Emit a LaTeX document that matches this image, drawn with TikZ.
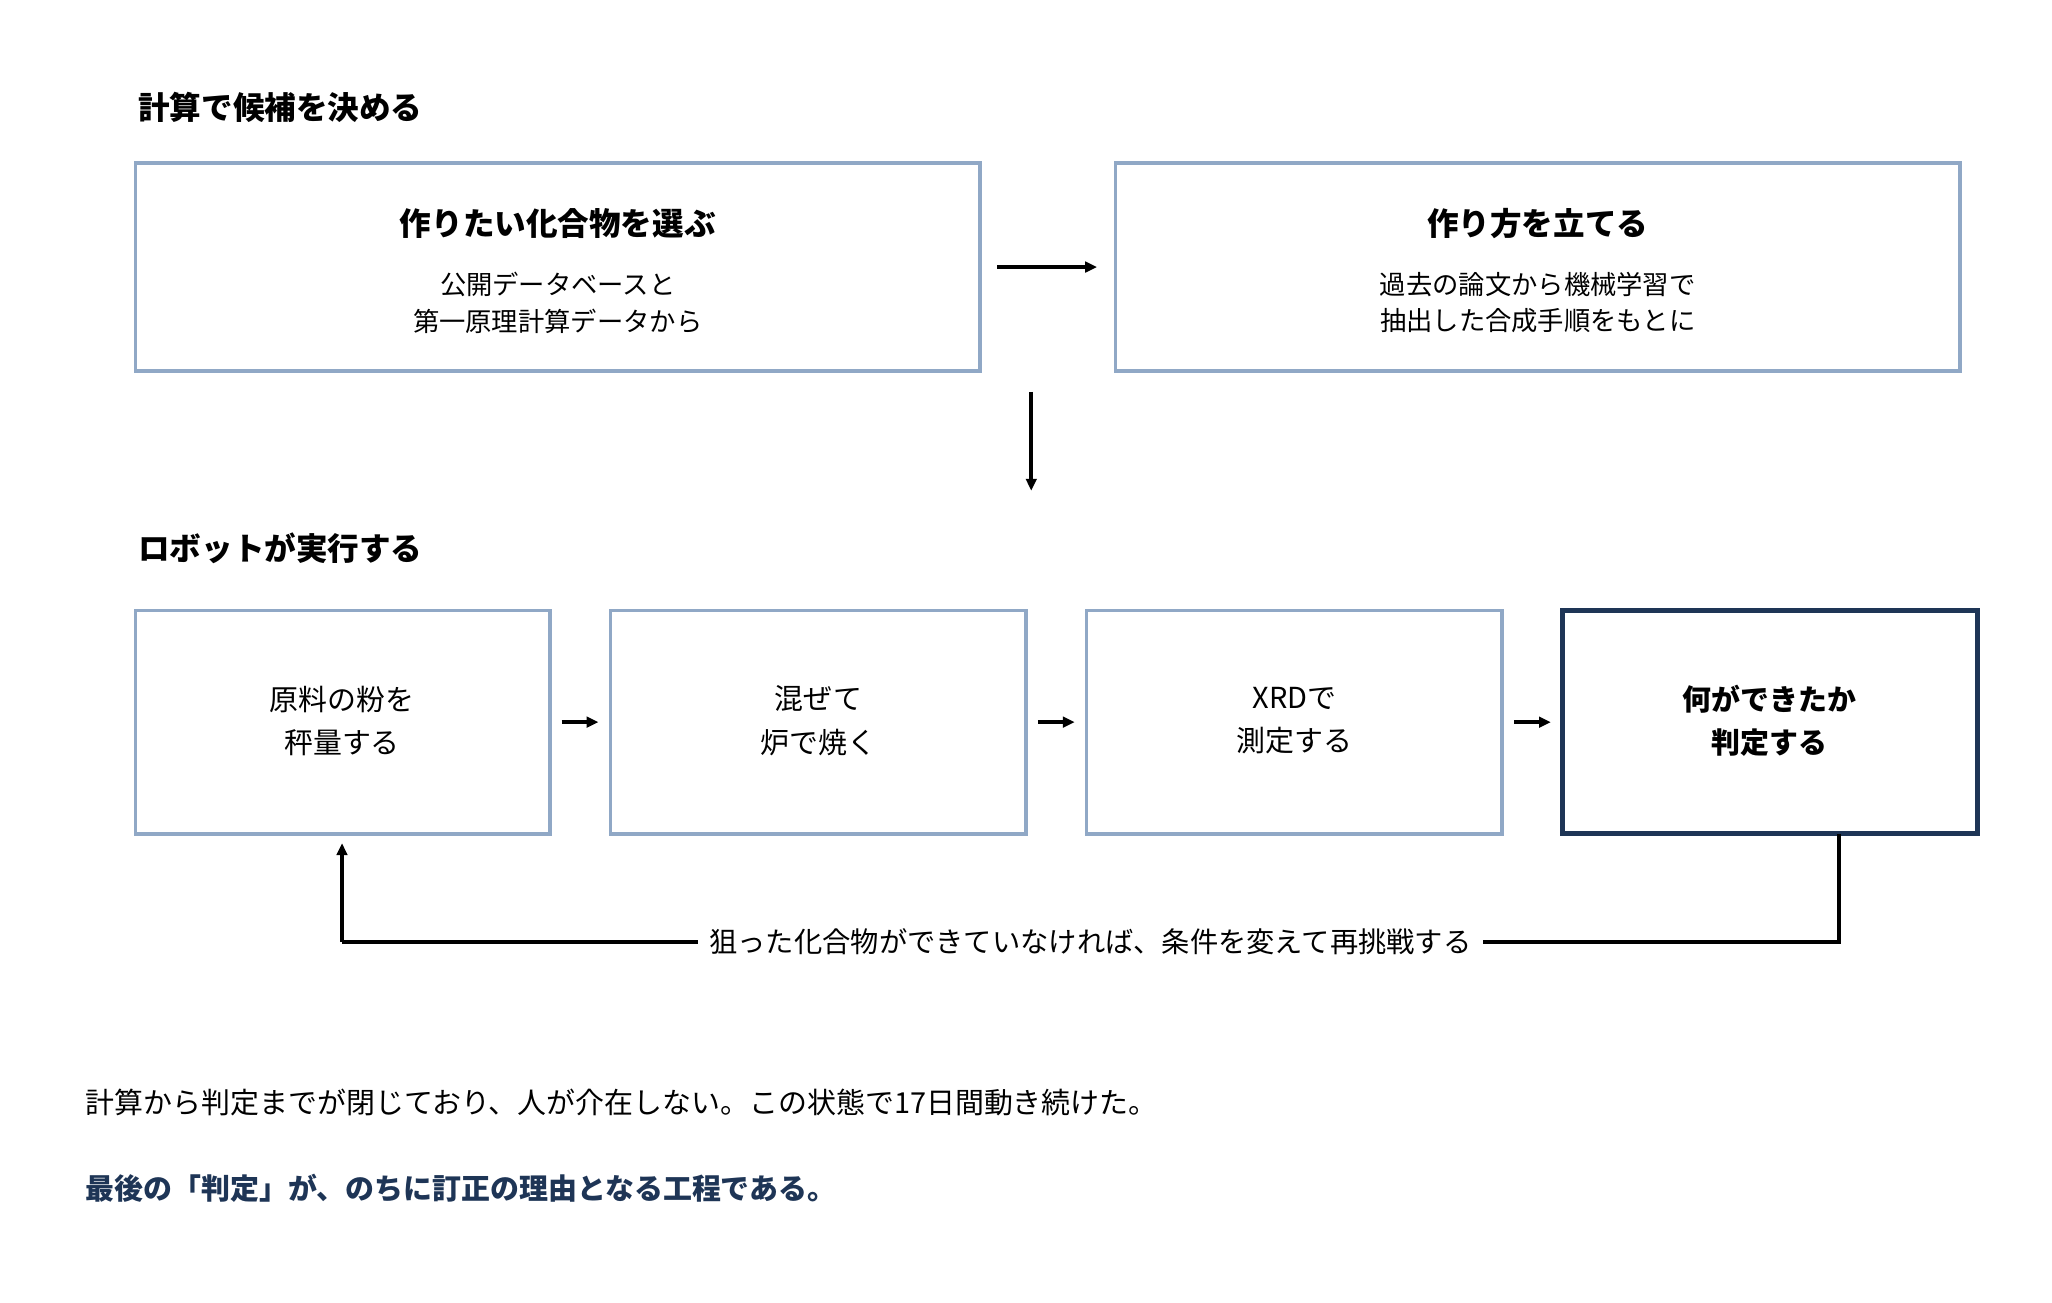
\documentclass[tikz,border=0pt]{standalone}
\usepackage{fontspec}
\setmainfont{Noto Sans CJK JP}
\usetikzlibrary{arrows.meta}
\definecolor{lb}{HTML}{90A8C6}
\definecolor{db}{HTML}{1E3556}
\begin{document}
\begin{tikzpicture}[x=1pt,y=-1pt,
  box/.style={draw=lb,line width=2.8pt,fill=white},
  dbox/.style={draw=db,line width=3.8pt,fill=white},
  head/.style={anchor=west,font=\fontsize{24}{28}\selectfont\bfseries},
  ttl/.style={font=\fontsize{24}{28}\selectfont\bfseries},
  sub/.style={font=\fontsize{20}{28}\selectfont,align=center},
  mid/.style={font=\fontsize{22}{33}\selectfont,align=center},
  arr/.style={-{Triangle[length=9pt,width=8pt]},line width=2.8pt}]
\useasboundingbox (0,0) rectangle (1560,990);
\fill[white] (0,0) rectangle (1560,990);
\node[head,inner sep=0pt] (h1) at (105,82) {計算で候補を決める};
\draw[box] (103,124) rectangle (745,282);
\draw[box] (848,124) rectangle (1490,282);
\node[ttl] (ta) at (424,170) {作りたい化合物を選ぶ};
\node[sub] (sa) at (424,230) {公開データベースと\\第一原理計算データから};
\node[ttl] (tb) at (1169,170) {作り方を立てる};
\node[sub] (sb) at (1169,230) {過去の論文から機械学習で\\抽出した合成手順をもとに};
\coordinate (a1) at (758,203); \coordinate (a2) at (834,203);
\draw[arr] (a1) -- (a2);
\coordinate (d1) at (784,298); \coordinate (d2) at (784,373);
\draw[arr] (d1) -- (d2);
\node[head,inner sep=0pt] (h2) at (105,417) {ロボットが実行する};
\draw[box] (103,464) rectangle (418,634);
\draw[box] (464,464) rectangle (780,634);
\draw[box] (826,464) rectangle (1142,634);
\draw[dbox] (1188,464) rectangle (1503,634);
\node[mid] (r1) at (260,548) {原料の粉を\\秤量する};
\node[mid] (r2) at (622,548) {混ぜて\\炉で焼く};
\node[mid] (r3) at (984,548) {XRDで\\測定する};
\node[mid,font=\fontsize{22}{33}\selectfont\bfseries] (r4) at (1345,548) {何ができたか\\判定する};
\foreach \x in {427,789,1151}{\draw[arr] (\x,549) -- (\x+28,549);}
\coordinate (f0) at (1398,634); \coordinate (f1) at (1398,716);
\coordinate (f2) at (260,716); \coordinate (f3) at (260,641);
\draw[line width=2.8pt] (f0) -- (f1) -- (f2);
\draw[arr] (f2) -- (f3);
\node[fill=white,inner xsep=9pt,font=\fontsize{21.5}{24}\selectfont] (fl) at (829,716) {狙った化合物ができていなければ、条件を変えて再挑戦する};
\node[anchor=west,inner sep=0pt,font=\fontsize{22}{26}\selectfont] (n1) at (65,838) {計算から判定までが閉じており、人が介在しない。この状態で17日間動き続けた。};
\node[anchor=west,inner sep=0pt,text=db,font=\fontsize{22}{26}\selectfont\bfseries] (n2) at (65,903) {最後の「判定」が、のちに訂正の理由となる工程である。};
\end{tikzpicture}
\end{document}
